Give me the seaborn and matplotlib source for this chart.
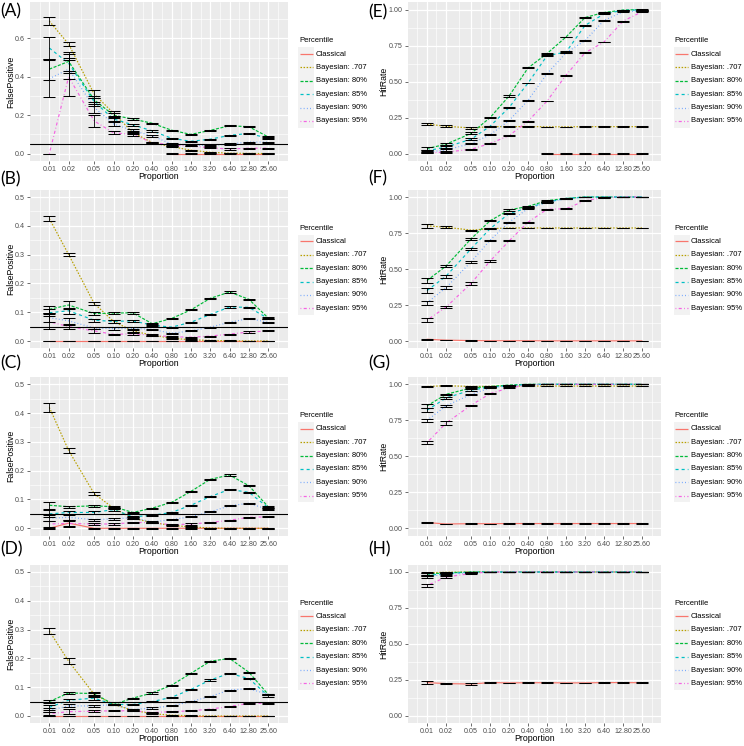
import numpy as np
import pandas as pd
import seaborn as sns
import matplotlib
matplotlib.use("Agg")
import matplotlib.pyplot as plt
from matplotlib.lines import Line2D
from matplotlib.patches import Rectangle
from matplotlib.ticker import FixedLocator, NullFormatter

nan = np.nan

# ---------------------------------------------------------------- data
PROPORTION = [0.01, 0.02, 0.05, 0.10, 0.20, 0.40, 0.80, 1.60, 3.20, 6.40, 12.80, 25.60]
PROPORTION_LABELS = ["0.01", "0.02", "0.05", "0.10", "0.20", "0.40", "0.80",
                     "1.60", "3.20", "6.40", "12.80", "25.60"]

SERIES = ["Classical", "Bayesian: .707", "Bayesian: 80%", "Bayesian: 85%",
          "Bayesian: 90%", "Bayesian: 95%"]
SERIES_COLORS = ["#F8766D", "#B79F00", "#00BA38", "#00BFC4", "#619CFF", "#F564E3"]

# (A) FalsePositive
A_CLASSICAL     = [nan, nan, nan, nan, nan, nan, 0.000, 0.000, 0.000, 0.000, 0.000, 0.000]
A_CLASSICAL_ERR = [nan, nan, nan, nan, nan, nan, 0.001, 0.001, 0.001, 0.001, 0.001, 0.001]
A_707     = [0.690, 0.570, 0.310, 0.210, 0.110, 0.057, 0.036, 0.018, 0.007, 0.002, 0.001, 0.000]
A_707_ERR = [0.020, 0.010, 0.020, 0.012, 0.006, 0.004, 0.003, 0.003, 0.002, 0.001, 0.001, 0.001]
A_80      = [0.440, 0.480, 0.280, 0.200, 0.180, 0.158, 0.122, 0.100, 0.121, 0.145, 0.140, 0.087]
A_80_ERR  = [0.055, 0.050, 0.020, 0.012, 0.004, 0.003, 0.003, 0.003, 0.003, 0.003, 0.003, 0.004]
A_85      = [0.550, 0.470, 0.270, 0.180, 0.150, 0.118, 0.080, 0.064, 0.075, 0.095, 0.105, 0.080]
A_85_ERR  = [0.055, 0.050, 0.020, 0.012, 0.006, 0.003, 0.003, 0.003, 0.003, 0.003, 0.003, 0.004]
A_90      = [0.390, 0.440, 0.240, 0.155, 0.120, 0.092, 0.050, 0.045, 0.042, 0.050, 0.060, 0.060]
A_90_ERR  = [0.095, 0.050, 0.030, 0.012, 0.008, 0.004, 0.004, 0.003, 0.003, 0.003, 0.003, 0.003]
A_95      = [0.000, 0.400, 0.170, 0.108, 0.100, 0.057, 0.045, 0.040, 0.030, 0.024, 0.028, 0.028]
A_95_ERR  = [0.000, 0.100, 0.030, 0.008, 0.006, 0.004, 0.004, 0.003, 0.003, 0.003, 0.003, 0.003]

# (B) FalsePositive
B_CLASSICAL     = [0.000] * 12
B_CLASSICAL_ERR = [0.001] * 12
B_707     = [0.425, 0.300, 0.130, 0.068, 0.035, 0.020, 0.010, 0.004, 0.002, 0.001, 0.000, 0.000]
B_707_ERR = [0.010, 0.006, 0.005, 0.004, 0.003, 0.003, 0.002, 0.002, 0.001, 0.001, 0.001, 0.001]
B_80      = [0.110, 0.125, 0.095, 0.097, 0.098, 0.060, 0.078, 0.108, 0.148, 0.170, 0.145, 0.080]
B_80_ERR  = [0.013, 0.013, 0.005, 0.004, 0.003, 0.003, 0.002, 0.002, 0.002, 0.002, 0.002, 0.003]
B_85      = [0.098, 0.105, 0.072, 0.068, 0.070, 0.055, 0.048, 0.065, 0.092, 0.118, 0.117, 0.078]
B_85_ERR  = [0.012, 0.010, 0.005, 0.004, 0.003, 0.003, 0.002, 0.002, 0.002, 0.002, 0.002, 0.003]
B_90      = [0.081, 0.070, 0.045, 0.043, 0.044, 0.040, 0.027, 0.035, 0.048, 0.065, 0.078, 0.065]
B_90_ERR  = [0.015, 0.010, 0.005, 0.004, 0.003, 0.003, 0.002, 0.002, 0.002, 0.002, 0.002, 0.002]
B_95      = [0.067, 0.050, 0.035, 0.023, 0.025, 0.020, 0.015, 0.013, 0.017, 0.024, 0.031, 0.035]
B_95_ERR  = [0.027, 0.007, 0.006, 0.003, 0.003, 0.002, 0.002, 0.002, 0.002, 0.002, 0.002, 0.002]

# (C) FalsePositive
C_CLASSICAL     = [0.000, 0.018, 0.000, 0.000, 0.000, 0.000, 0.000, 0.000, 0.000, 0.000, 0.000, 0.000]
C_CLASSICAL_ERR = [0.001, 0.012, 0.001, 0.001, 0.001, 0.001, 0.001, 0.001, 0.001, 0.001, 0.001, 0.001]
C_707     = [0.420, 0.270, 0.120, 0.070, 0.035, 0.020, 0.010, 0.005, 0.001, 0.000, 0.000, 0.000]
C_707_ERR = [0.015, 0.010, 0.005, 0.004, 0.003, 0.003, 0.002, 0.002, 0.001, 0.001, 0.001, 0.001]
C_80      = [0.080, 0.075, 0.078, 0.075, 0.055, 0.070, 0.090, 0.128, 0.170, 0.185, 0.148, 0.075]
C_80_ERR  = [0.012, 0.004, 0.004, 0.004, 0.003, 0.002, 0.002, 0.002, 0.002, 0.002, 0.002, 0.003]
C_85      = [0.050, 0.055, 0.055, 0.065, 0.040, 0.045, 0.055, 0.080, 0.110, 0.135, 0.125, 0.072]
C_85_ERR  = [0.012, 0.005, 0.004, 0.004, 0.003, 0.002, 0.002, 0.002, 0.002, 0.002, 0.002, 0.003]
C_90      = [0.035, 0.038, 0.030, 0.033, 0.037, 0.022, 0.030, 0.040, 0.057, 0.078, 0.087, 0.065]
C_90_ERR  = [0.010, 0.008, 0.004, 0.003, 0.003, 0.002, 0.002, 0.002, 0.002, 0.002, 0.002, 0.002]
C_95      = [0.015, 0.017, 0.015, 0.015, 0.020, 0.020, 0.012, 0.015, 0.020, 0.028, 0.038, 0.040]
C_95_ERR  = [0.010, 0.010, 0.003, 0.003, 0.002, 0.002, 0.002, 0.002, 0.002, 0.002, 0.002, 0.002]

# (D) FalsePositive
D_CLASSICAL     = [0.000] * 12
D_CLASSICAL_ERR = [0.001] * 12
D_707     = [0.295, 0.190, 0.075, 0.040, 0.020, 0.008, 0.003, 0.001, 0.000, 0.000, 0.000, 0.000]
D_707_ERR = [0.010, 0.010, 0.005, 0.003, 0.003, 0.002, 0.002, 0.001, 0.001, 0.001, 0.001, 0.001]
D_80      = [0.050, 0.080, 0.078, 0.040, 0.062, 0.080, 0.107, 0.148, 0.190, 0.200, 0.152, 0.075]
D_80_ERR  = [0.005, 0.005, 0.005, 0.003, 0.002, 0.002, 0.002, 0.002, 0.002, 0.002, 0.002, 0.003]
D_85      = [0.030, 0.055, 0.062, 0.040, 0.040, 0.050, 0.065, 0.092, 0.125, 0.148, 0.130, 0.070]
D_85_ERR  = [0.008, 0.005, 0.005, 0.003, 0.002, 0.002, 0.002, 0.002, 0.002, 0.002, 0.002, 0.003]
D_90      = [0.020, 0.035, 0.035, 0.040, 0.022, 0.028, 0.035, 0.050, 0.068, 0.090, 0.095, 0.075]
D_90_ERR  = [0.007, 0.005, 0.003, 0.003, 0.002, 0.002, 0.002, 0.002, 0.002, 0.002, 0.002, 0.002]
D_95      = [0.008, 0.015, 0.017, 0.018, 0.018, 0.012, 0.015, 0.018, 0.024, 0.033, 0.044, 0.044]
D_95_ERR  = [0.006, 0.008, 0.003, 0.002, 0.002, 0.002, 0.002, 0.002, 0.002, 0.002, 0.002, 0.002]

# (E) HitRate
E_CLASSICAL     = [nan, nan, nan, nan, nan, nan, 0.000, 0.000, 0.000, 0.000, 0.000, 0.000]
E_CLASSICAL_ERR = [nan, nan, nan, nan, nan, nan, 0.001, 0.001, 0.001, 0.001, 0.001, 0.001]
E_707     = [0.205, 0.190, 0.178, 0.187, 0.187, 0.188, 0.186, 0.186, 0.187, 0.187, 0.187, 0.187]
E_707_ERR = [0.008, 0.006, 0.004, 0.003, 0.002, 0.002, 0.002, 0.002, 0.002, 0.002, 0.002, 0.002]
E_80      = [0.035, 0.065, 0.140, 0.250, 0.400, 0.595, 0.695, 0.810, 0.945, 0.980, 0.997, 1.000]
E_80_ERR  = [0.008, 0.008, 0.007, 0.005, 0.004, 0.003, 0.006, 0.003, 0.003, 0.003, 0.002, 0.002]
E_85      = [0.020, 0.045, 0.100, 0.190, 0.320, 0.490, 0.680, 0.705, 0.890, 0.970, 0.995, 0.998]
E_85_ERR  = [0.007, 0.007, 0.006, 0.005, 0.005, 0.003, 0.004, 0.005, 0.003, 0.003, 0.002, 0.002]
E_90      = [0.010, 0.025, 0.070, 0.130, 0.230, 0.370, 0.555, 0.700, 0.785, 0.925, 0.985, 0.990]
E_90_ERR  = [0.005, 0.005, 0.004, 0.003, 0.004, 0.003, 0.003, 0.003, 0.003, 0.003, 0.002, 0.003]
E_95      = [0.005, 0.010, 0.030, 0.070, 0.125, 0.225, 0.365, 0.545, 0.700, 0.775, 0.920, 0.985]
E_95_ERR  = [0.004, 0.004, 0.003, 0.003, 0.003, 0.003, 0.003, 0.003, 0.003, 0.003, 0.003, 0.003]

# (F) HitRate
F_CLASSICAL     = [0.012, 0.006, 0.003, 0.002, 0.002, 0.002, 0.001, 0.001, 0.001, 0.001, 0.001, 0.001]
F_CLASSICAL_ERR = [0.002, 0.002, 0.001, 0.001, 0.001, 0.001, 0.001, 0.001, 0.001, 0.001, 0.001, 0.001]
F_707     = [0.800, 0.790, 0.770, 0.780, 0.785, 0.785, 0.785, 0.785, 0.785, 0.785, 0.785, 0.785]
F_707_ERR = [0.012, 0.008, 0.004, 0.003, 0.003, 0.002, 0.002, 0.002, 0.002, 0.002, 0.002, 0.002]
F_80      = [0.420, 0.520, 0.710, 0.835, 0.910, 0.935, 0.975, 0.990, 1.000, 1.000, 1.000, 1.000]
F_80_ERR  = [0.015, 0.008, 0.006, 0.004, 0.006, 0.003, 0.003, 0.002, 0.001, 0.001, 0.001, 0.001]
F_85      = [0.350, 0.450, 0.640, 0.780, 0.885, 0.925, 0.965, 0.990, 1.000, 1.000, 1.000, 1.000]
F_85_ERR  = [0.015, 0.010, 0.006, 0.005, 0.004, 0.003, 0.003, 0.002, 0.001, 0.001, 0.001, 0.001]
F_90      = [0.265, 0.370, 0.550, 0.700, 0.825, 0.920, 0.963, 0.988, 0.998, 1.000, 1.000, 1.000]
F_90_ERR  = [0.012, 0.010, 0.007, 0.004, 0.004, 0.003, 0.003, 0.002, 0.001, 0.001, 0.001, 0.001]
F_95      = [0.145, 0.235, 0.400, 0.555, 0.695, 0.825, 0.915, 0.918, 0.975, 0.995, 1.000, 1.000]
F_95_ERR  = [0.012, 0.008, 0.008, 0.005, 0.003, 0.003, 0.004, 0.003, 0.002, 0.001, 0.001, 0.001]

# (G) HitRate
G_CLASSICAL     = [0.040, 0.030, 0.032, 0.032, 0.033, 0.033, 0.033, 0.033, 0.033, 0.033, 0.033, 0.033]
G_CLASSICAL_ERR = [0.004, 0.002, 0.002, 0.001, 0.001, 0.001, 0.001, 0.001, 0.001, 0.001, 0.001, 0.001]
G_707     = [0.985, 0.990, 0.985, 0.986, 0.988, 0.988, 0.988, 0.988, 0.988, 0.988, 0.988, 0.988]
G_707_ERR = [0.003, 0.002, 0.002, 0.002, 0.001, 0.001, 0.001, 0.001, 0.001, 0.001, 0.001, 0.001]
G_80      = [0.850, 0.930, 0.975, 0.985, 0.995, 1.000, 1.000, 1.000, 1.000, 1.000, 1.000, 1.000]
G_80_ERR  = [0.012, 0.006, 0.004, 0.003, 0.002, 0.001, 0.001, 0.001, 0.001, 0.001, 0.001, 0.001]
G_85      = [0.820, 0.905, 0.960, 0.980, 0.990, 0.998, 1.000, 1.000, 1.000, 1.000, 1.000, 1.000]
G_85_ERR  = [0.012, 0.007, 0.004, 0.003, 0.002, 0.001, 0.001, 0.001, 0.001, 0.001, 0.001, 0.001]
G_90      = [0.750, 0.850, 0.930, 0.975, 0.990, 0.998, 1.000, 1.000, 1.000, 1.000, 1.000, 1.000]
G_90_ERR  = [0.010, 0.008, 0.004, 0.003, 0.002, 0.001, 0.001, 0.001, 0.001, 0.001, 0.001, 0.001]
G_95      = [0.595, 0.730, 0.855, 0.935, 0.975, 0.995, 1.000, 1.000, 1.000, 1.000, 1.000, 1.000]
G_95_ERR  = [0.012, 0.015, 0.004, 0.003, 0.003, 0.002, 0.001, 0.001, 0.001, 0.001, 0.001, 0.001]

# (H) HitRate
H_CLASSICAL     = [0.232, 0.225, 0.222, 0.232, 0.230, 0.231, 0.231, 0.230, 0.230, 0.232, 0.232, 0.231]
H_CLASSICAL_ERR = [0.012, 0.006, 0.007, 0.003, 0.002, 0.002, 0.002, 0.002, 0.002, 0.002, 0.002, 0.002]
H_707     = [0.995, 0.998, 1.000, 1.000, 1.000, 1.000, 1.000, 1.000, 1.000, 1.000, 1.000, 1.000]
H_707_ERR = [0.003, 0.002, 0.001, 0.001, 0.001, 0.001, 0.001, 0.001, 0.001, 0.001, 0.001, 0.001]
H_80      = [0.985, 0.995, 1.000, 1.000, 1.000, 1.000, 1.000, 1.000, 1.000, 1.000, 1.000, 1.000]
H_80_ERR  = [0.005, 0.003, 0.001, 0.001, 0.001, 0.001, 0.001, 0.001, 0.001, 0.001, 0.001, 0.001]
H_85      = [0.975, 0.990, 0.998, 1.000, 1.000, 1.000, 1.000, 1.000, 1.000, 1.000, 1.000, 1.000]
H_85_ERR  = [0.006, 0.004, 0.002, 0.001, 0.001, 0.001, 0.001, 0.001, 0.001, 0.001, 0.001, 0.001]
H_90      = [0.965, 0.985, 0.995, 1.000, 1.000, 1.000, 1.000, 1.000, 1.000, 1.000, 1.000, 1.000]
H_90_ERR  = [0.008, 0.005, 0.002, 0.001, 0.001, 0.001, 0.001, 0.001, 0.001, 0.001, 0.001, 0.001]
H_95      = [0.905, 0.965, 0.990, 1.000, 1.000, 1.000, 1.000, 1.000, 1.000, 1.000, 1.000, 1.000]
H_95_ERR  = [0.012, 0.008, 0.004, 0.001, 0.001, 0.001, 0.001, 0.001, 0.001, 0.001, 0.001, 0.001]

# ---------------------------------------------------------------- styling / layout
# ggplot linetypes solid, 22, 42, 44, 13, 1343 (in points, not scaled)
SERIES_DASHES = ["", (1.1, 1.1), (2.2, 1.1), (2.2, 2.2), (0.6, 1.7), (0.6, 1.7, 2.2, 1.7)]

W, H = 744, 746
ROWS = [(2.4, 160.8), (189.8, 348.2), (377.1, 535.5), (564.8, 723.2)]  # top, bottom in px
COLS = [(30.0, 287.5), (408.0, 661.0)]                                    # left, right in px
LEGEND_LEFT = [298.0, 673.5]
LETTER_POS = [[(0.5, 11), (0.5, 179), (0.5, 363), (0.5, 549)],
              [(368, 12), (368, 178), (368, 363), (368, 549)]]


def fx(px):
    return px / W


def fy(py):
    return 1 - py / H


def long_frame(means, errs):
    rows = []
    for name, m, e in zip(SERIES, means, errs):
        for x, v, s in zip(PROPORTION, m, e):
            rows.append({"Proportion": x, "value": v, "err": s, "Percentile": name})
    return pd.DataFrame(rows).dropna()


fp_panels = [
    ("(A)", [A_CLASSICAL, A_707, A_80, A_85, A_90, A_95],
     [A_CLASSICAL_ERR, A_707_ERR, A_80_ERR, A_85_ERR, A_90_ERR, A_95_ERR]),
    ("(B)", [B_CLASSICAL, B_707, B_80, B_85, B_90, B_95],
     [B_CLASSICAL_ERR, B_707_ERR, B_80_ERR, B_85_ERR, B_90_ERR, B_95_ERR]),
    ("(C)", [C_CLASSICAL, C_707, C_80, C_85, C_90, C_95],
     [C_CLASSICAL_ERR, C_707_ERR, C_80_ERR, C_85_ERR, C_90_ERR, C_95_ERR]),
    ("(D)", [D_CLASSICAL, D_707, D_80, D_85, D_90, D_95],
     [D_CLASSICAL_ERR, D_707_ERR, D_80_ERR, D_85_ERR, D_90_ERR, D_95_ERR]),
]
hr_panels = [
    ("(E)", [E_CLASSICAL, E_707, E_80, E_85, E_90, E_95],
     [E_CLASSICAL_ERR, E_707_ERR, E_80_ERR, E_85_ERR, E_90_ERR, E_95_ERR]),
    ("(F)", [F_CLASSICAL, F_707, F_80, F_85, F_90, F_95],
     [F_CLASSICAL_ERR, F_707_ERR, F_80_ERR, F_85_ERR, F_90_ERR, F_95_ERR]),
    ("(G)", [G_CLASSICAL, G_707, G_80, G_85, G_90, G_95],
     [G_CLASSICAL_ERR, G_707_ERR, G_80_ERR, G_85_ERR, G_90_ERR, G_95_ERR]),
    ("(H)", [H_CLASSICAL, H_707, H_80, H_85, H_90, H_95],
     [H_CLASSICAL_ERR, H_707_ERR, H_80_ERR, H_85_ERR, H_90_ERR, H_95_ERR]),
]

sns.set_theme(context="paper", style="darkgrid")
plt.rcParams["font.family"] = ["Liberation Sans", "DejaVu Sans"]
plt.rcParams["lines.scale_dashes"] = False

fig = plt.figure(figsize=(W / 100, H / 100), dpi=100)
fig.patch.set_facecolor("white")

# minor grid positions (midpoints in log space, like ggplot)
logx = np.log10(PROPORTION)
x_minor = list(10 ** ((logx[:-1] + logx[1:]) / 2))
x_minor = [10 ** (logx[0] - (logx[1] - logx[0]) / 2)] + x_minor + [10 ** (logx[-1] + (logx[-1] - logx[-2]) / 2)]


def draw_legend(left, center):
    step = 13.4
    first = center - 27.6
    fig.text(fx(left + 1), fy(center - 40.6), "Percentile", fontsize=5.5, va="center", ha="left", color="black")
    fig.add_artist(Rectangle((fx(left), fy(first + 5 * step + step / 2)), 16 / W, 6 * step / H,
                             transform=fig.transFigure, facecolor="#F2F2F2", edgecolor="none"))
    for i, (name, color, dash) in enumerate(zip(SERIES, SERIES_COLORS, SERIES_DASHES)):
        y = first + i * step
        line = Line2D([fx(left + 1.5), fx(left + 14.5)], [fy(y), fy(y)], transform=fig.transFigure,
                      color=color, lw=0.9, solid_capstyle="butt", dash_capstyle="butt")
        if dash:
            line.set_dashes(dash)
        fig.add_artist(line)
        fig.text(fx(left + 17.5), fy(y), name, fontsize=5.5, va="center", ha="left", color="black")


for col, (panels, ylabel) in enumerate([(fp_panels, "FalsePositive"), (hr_panels, "HitRate")]):
    left, right = COLS[col]
    for row, (letter, means, errs) in enumerate(panels):
        top, bottom = ROWS[row]
        ax = fig.add_axes([fx(left), fy(bottom), (right - left) / W, (bottom - top) / H])
        ax.set_facecolor("#EBEBEB")
        for s in ax.spines.values():
            s.set_visible(False)

        df = long_frame(means, errs)
        sns.lineplot(data=df, x="Proportion", y="value", hue="Percentile", style="Percentile",
                     hue_order=SERIES, style_order=SERIES, palette=SERIES_COLORS,
                     dashes=SERIES_DASHES, linewidth=0.85, errorbar=None, legend=False, ax=ax)
        for line in ax.get_lines():
            line.set_dash_capstyle("butt")
        ax.errorbar(df["Proportion"], df["value"], yerr=df["err"], fmt="none", ecolor="black",
                    elinewidth=0.6, capsize=4.3, capthick=0.75, zorder=3)

        if col == 0:
            ax.axhline(0.05, color="black", lw=0.8, zorder=2.5)
            if row == 0:
                ax.set_ylim(-0.0375, 0.7875)
                yt = [0.0, 0.2, 0.4, 0.6]
                ym = [0.1, 0.3, 0.5, 0.7]
            else:
                ax.set_ylim(-0.025, 0.525)
                yt = [0.0, 0.1, 0.2, 0.3, 0.4, 0.5]
                ym = [0.05, 0.15, 0.25, 0.35, 0.45]
            ylabels = [f"{v:.1f}" for v in yt]
        else:
            ax.set_ylim(-0.05, 1.05)
            yt = [0.0, 0.25, 0.5, 0.75, 1.0]
            ym = [0.125, 0.375, 0.625, 0.875]
            ylabels = [f"{v:.2f}" for v in yt]

        ax.set_xscale("log")
        ax.set_xlim(0.005, 51.2)
        ax.set_xticks(PROPORTION, labels=PROPORTION_LABELS)
        ax.xaxis.set_minor_locator(FixedLocator(x_minor))
        ax.xaxis.set_minor_formatter(NullFormatter())
        ax.set_yticks(yt, labels=ylabels)
        ax.yaxis.set_minor_locator(FixedLocator(ym))

        ax.grid(which="major", color="white", lw=0.9)
        ax.grid(which="minor", color="white", lw=0.45)
        ax.set_axisbelow(True)
        ax.tick_params(which="major", length=2.5, width=0.5, color="#333333", labelsize=5.1,
                       labelcolor="#4D4D4D", pad=1.3)
        ax.tick_params(which="minor", length=0)
        ax.tick_params(axis="x", which="major", bottom=True)
        ax.tick_params(axis="y", which="major", left=True)

        ax.set_xlabel("Proportion", fontsize=6.3, color="black", va="center")
        ax.xaxis.set_label_coords(0.5, -15.7 / (bottom - top))
        ax.set_ylabel(ylabel, fontsize=6.3, color="black", va="center")
        ylab_x = 11.0 if col == 0 else 383.7
        ax.yaxis.set_label_coords((ylab_x - left) / (right - left), 0.5)

        draw_legend(LEGEND_LEFT[col], (top + bottom) / 2)
        lx, ly = LETTER_POS[col][row]
        fig.text(fx(lx), fy(ly), letter, fontsize=12.5, va="center", ha="left",
                 family=["Lato", "DejaVu Sans"], color="black")

fig.savefig("out.png", dpi=100)
